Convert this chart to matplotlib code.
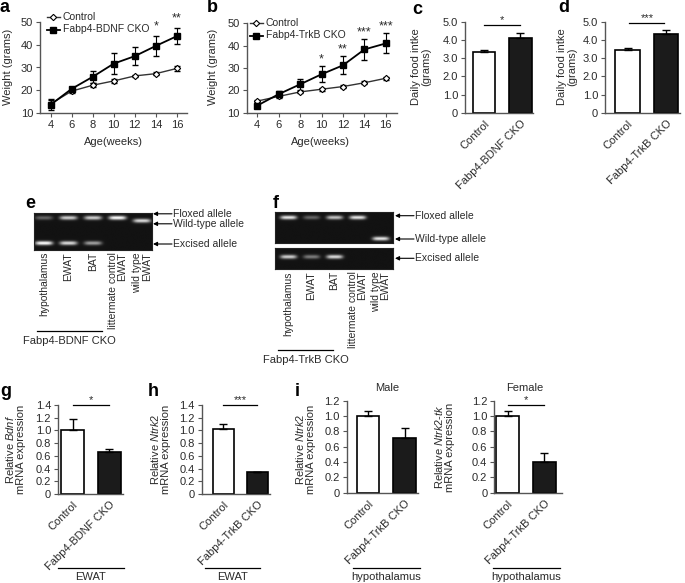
import numpy as np
import matplotlib
matplotlib.use('Agg')
import matplotlib.pyplot as plt

plt.rcParams['font.family'] = ['Liberation Sans', 'DejaVu Sans']
plt.rcParams['font.size'] = 7.5
plt.rcParams['mathtext.fontset'] = 'custom'
plt.rcParams['mathtext.rm'] = 'Liberation Sans'
plt.rcParams['mathtext.it'] = 'Liberation Sans:italic'

W, H = 685, 583
TXT = '#2a2a2a'
SP = '#555555'
FS = 7.5

# ---- data ----
weeks = [4, 6, 8, 10, 12, 14, 16]
# panel a (Fabp4-BDNF)
a_ctrl = [14.0, 19.6, 22.2, 24.1, 26.3, 27.3, 29.6]
a_ctrl_err = [1.5, 0.8, 0.8, 1.0, 0.6, 0.8, 1.2]
a_cko = [13.6, 20.6, 25.9, 31.7, 35.0, 39.5, 43.8]
a_cko_err = [2.5, 1.0, 2.5, 4.5, 4.0, 4.5, 3.5]
a_stars = {14: '*', 16: '**'}
# panel b (Fabp4-TrkB)
b_ctrl = [15.2, 17.3, 19.3, 20.5, 21.7, 23.4, 25.4]
b_ctrl_err = [0.6, 0.6, 0.6, 0.6, 0.6, 0.6, 0.6]
b_cko = [13.2, 18.3, 22.7, 27.2, 31.2, 38.3, 41.0]
b_cko_err = [1.0, 1.3, 2.5, 3.5, 4.0, 4.5, 4.5]
b_stars = {10: '*', 12: '**', 14: '***', 16: '***'}

# food intake
c_vals, c_err = [3.33, 4.10], [0.13, 0.32]
d_vals, d_err = [3.48, 4.32], [0.10, 0.25]
c_labels = ['Control', 'Fabp4-BDNF CKO']
d_labels = ['Control', 'Fabp4-TrkB CKO']

# mRNA expression
g_vals, g_err = [1.00, 0.66], [0.18, 0.05]
h_vals, h_err = [1.02, 0.34], [0.08, 0.01]
im_vals, im_err = [1.00, 0.72], [0.06, 0.12]
if_vals, if_err = [1.00, 0.40], [0.06, 0.12]

# gels: band intensity per lane
e_lanes = ['hypothalamus', 'EWAT', 'BAT', 'littermate control\nEWAT', 'wild type\nEWAT']
e_floxed = [0.35, 0.8, 0.8, 1.0, 0.0]
e_wt = [0.0, 0.0, 0.0, 0.0, 0.85]
e_excised = [1.0, 0.85, 0.6, 0.0, 0.0]
f_floxed = [0.9, 0.35, 0.75, 0.9, 0.0]
f_wt = [0.0, 0.0, 0.0, 0.0, 0.9]
f_excised = [0.8, 0.45, 0.85, 0.0, 0.0]

fig = plt.figure(figsize=(W / 100, H / 100), dpi=100)


def add_ax(l, t, r, b):
    return fig.add_axes([l / W, 1 - b / H, (r - l) / W, (b - t) / H])


def style(ax):
    for s in ['top', 'right']:
        ax.spines[s].set_visible(False)
    for s in ['left', 'bottom']:
        ax.spines[s].set_color(SP)
        ax.spines[s].set_linewidth(1.0)
    ax.tick_params(colors=SP, labelcolor=TXT, length=3, width=0.8, labelsize=FS + 0.5, pad=2)


def growth(ax, ctrl, ctrl_e, cko, cko_e, stars, star_off):
    ax.errorbar(weeks, ctrl, yerr=ctrl_e, fmt='none', ecolor='k', elinewidth=0.8, capsize=2)
    ax.errorbar(weeks, cko, yerr=cko_e, fmt='none', ecolor='k', elinewidth=0.8, capsize=2)
    ax.plot(weeks, ctrl, color='#333333', lw=1.0, marker='D', ms=3.2, mfc='white', mec='k', mew=0.8)
    ax.plot(weeks, cko, color='k', lw=1.3, marker='s', ms=4)
    for wk, s in stars.items():
        i = weeks.index(wk)
        ax.text(wk, cko[i] + cko_e[i] + star_off, s, ha='center', va='bottom', fontsize=9, color=TXT, clip_on=False)
    ax.set_xlim(3, 17)
    ax.set_ylim(10, 50)
    ax.set_xticks(weeks)
    ax.set_yticks([10, 20, 30, 40, 50])
    style(ax)


def bars(ax, vals, errs, ymax, step, xlim, labels=None, sig=None):
    x = np.arange(len(vals))
    ax.bar(x, vals, width=0.62, color=['white', '#1b1b1b'], edgecolor='k', linewidth=1.2, zorder=2)
    ax.errorbar(x, vals, yerr=[[0] * len(vals), errs], fmt='none', ecolor='k',
                elinewidth=1.0, capsize=3, capthick=1.0, zorder=3)
    ax.set_xlim(*xlim)
    ax.set_ylim(0, ymax)
    ticks = np.arange(0, ymax + step / 2, step)
    ax.set_yticks(ticks)
    ax.set_yticklabels(['0'] + ['%.1f' % t for t in ticks[1:]])
    ax.set_xticks(x)
    ax.set_xticklabels(labels, rotation=45, ha='right', rotation_mode='anchor', fontsize=8)
    style(ax)
    ax.tick_params(axis='x', length=0, pad=4)
    if sig is not None:
        x0, x1, y, s = sig
        ax.plot([x0, x1], [y, y], color='k', lw=0.9, clip_on=False)
        ax.text((x0 + x1) / 2, y, s, ha='center', va='bottom', fontsize=8, color=TXT)


def gel(ax, xlim, height, bands):
    xs = np.linspace(xlim[0], xlim[1], 300)
    ys = np.linspace(0, height, 150)
    X, Y = np.meshgrid(xs, ys)
    img = np.zeros_like(X)
    for y, intens in bands:
        for lane, v in enumerate(intens):
            if v > 0:
                img += v * np.exp(-((X - lane) / 0.36) ** 4) * np.exp(-((Y - y) / 2.0) ** 2)
    ax.imshow(np.clip(img, 0, 1), cmap='gray', vmin=-0.08, vmax=1, extent=[xlim[0], xlim[1], height, 0],
              aspect='auto', interpolation='bilinear')
    ax.set_xticks([])
    ax.set_yticks([])
    for s in ax.spines.values():
        s.set_color('#222222')


# ---- a / b ----
ax_a = add_ax(40, 22, 187.5, 113)
growth(ax_a, a_ctrl, a_ctrl_err, a_cko, a_cko_err, a_stars, 1.5)
ax_b = add_ax(246.6, 23.3, 396.5, 112.7)
growth(ax_b, b_ctrl, b_ctrl_err, b_cko, b_cko_err, b_stars, 0.3)

# ---- c / d ----
ax_c = add_ax(465, 22, 533, 112.7)
bars(ax_c, c_vals, c_err, 5.0, 1.0, (-0.53, 1.35), c_labels, (0.0, 1.0, 4.85, '*'))
ax_d = add_ax(605, 22, 680, 112.7)
bars(ax_d, d_vals, d_err, 5.0, 1.0, (-0.58, 1.35), d_labels, (0.05, 0.95, 4.92, '***'))

# ---- g / h / i ----
ax_g = add_ax(58, 405, 123, 494)
bars(ax_g, g_vals, g_err, 1.4, 0.2, (-0.40, 1.37), c_labels, (0.0, 1.0, 1.4, '*'))
ax_h = add_ax(201.7, 405, 270, 494)
bars(ax_h, h_vals, h_err, 1.4, 0.2, (-0.63, 1.37), d_labels, (0.0, 1.0, 1.4, '***'))
ax_im = add_ax(346.7, 400.7, 418, 492.7)
bars(ax_im, im_vals, im_err, 1.2, 0.2, (-0.59, 1.37), d_labels)
ax_if = add_ax(494.3, 400.7, 561.7, 492.7)
bars(ax_if, if_vals, if_err, 1.2, 0.2, (-0.36, 1.47), d_labels, (0.0, 1.0, 1.14, '*'))

# ---- gels ----
ax_e = add_ax(34, 212.7, 152, 250)
gel(ax_e, (-0.4, 4.4), 37.3, [(5.6, e_floxed), (8.5, e_wt), (30.6, e_excised)])
ax_f1 = add_ax(275, 212.3, 393, 243.3)
gel(ax_f1, (-0.58, 4.52), 31.0, [(5.4, f_floxed), (26.7, f_wt)])
ax_f2 = add_ax(275, 247.7, 393, 269.3)
gel(ax_f2, (-0.58, 4.52), 21.6, [(9.6, f_excised)])

# ---- overlay for annotations in pixel coordinates ----
ov = fig.add_axes([0, 0, 1, 1])
ov.set_xlim(0, W)
ov.set_ylim(H, 0)
ov.axis('off')

# legends of a / b
legends = [(47, 16.5, 29.5, 'Fabp4-BDNF CKO'), (250, 23.3, 35.5, 'Fabp4-TrkB CKO')]
for x0, y1, y2, lab in legends:
    ov.plot([x0, x0 + 13], [y1, y1], color='#333333', lw=1.0)
    ov.plot([x0 + 6.5], [y1], marker='D', ms=3.2, mfc='white', mec='k', mew=0.8)
    ov.plot([x0, x0 + 13], [y2, y2], color='k', lw=1.3)
    ov.plot([x0 + 6.5], [y2], marker='s', ms=4, color='k')
    ov.text(x0 + 16, y1, 'Control', ha='left', va='center', fontsize=FS, color=TXT)
    ov.text(x0 + 16, y2, lab, ha='left', va='center', fontsize=FS, color=TXT)

for s, (x, y) in zip('abcdefghi', [(5, 8), (212, 8), (417, 9), (564, 7), (30, 204),
                                   (276, 203), (6, 391), (153, 391), (297, 391)]):
    ov.text(x, y, s, fontsize=13, fontweight='bold', ha='center', va='center', color='k')

ylabels = [(8, 67, 'Weight (grams)'), (213, 67, 'Weight (grams)'),
           (421, 67, 'Daily food intke\n(grams)'), (567, 67, 'Daily food intke\n(grams)'),
           (15, 449, 'Relative $\\it{Bdnf}$\nmRNA expression'),
           (160, 449, 'Relative $\\it{Ntrk2}$\nmRNA expression'),
           (305, 449, 'Relative $\\it{Ntrk2}$\nmRNA expression'),
           (444, 447, 'Relative $\\it{Ntrk2}$-$\\it{tk}$\nmRNA expression')]
for x, y, t in ylabels:
    ov.text(x, y, t, rotation=90, ha='center', va='center', fontsize=FS + 0.5, color=TXT, linespacing=1.05)

ov.text(113, 142, 'Age(weeks)', ha='center', va='center', fontsize=FS + 0.5, color=TXT)
ov.text(320, 142, 'Age(weeks)', ha='center', va='center', fontsize=FS + 0.5, color=TXT)
ov.text(387, 388, 'Male', ha='center', va='center', fontsize=FS + 0.5, color=TXT)
ov.text(525, 388, 'Female', ha='center', va='center', fontsize=FS + 0.5, color=TXT)

# gel lane labels
for xc, lab in zip([43.8, 68.4, 93, 117.6, 142.2], e_lanes):
    ov.text(xc, 252, lab, rotation=90, ha='center', va='top', multialignment='right',
            fontsize=FS, color=TXT, linespacing=0.95)
for xc, lab in zip([288.3, 311.4, 334.5, 357.6, 380.7], e_lanes):
    ov.text(xc, 271, lab, rotation=90, ha='center', va='top', multialignment='right',
            fontsize=FS, color=TXT, linespacing=0.95)

arrows = [(153, 213.8, 'Floxed allele'), (153, 223.8, 'Wild-type allele'), (153, 244, 'Excised allele'),
          (395, 215.7, 'Floxed allele'), (395, 239, 'Wild-type allele'), (395, 258.3, 'Excised allele')]
for x, y, t in arrows:
    ov.annotate('', xy=(x, y), xytext=(x + 19, y),
                arrowprops=dict(arrowstyle='-|>', color='k', lw=0.8, mutation_scale=6, shrinkA=0, shrinkB=0))
    ov.text(x + 20, y, t, ha='left', va='center', fontsize=FS, color=TXT)

groups = [(37, 102, 331, 341, 'Fabp4-BDNF CKO'), (278, 333, 350, 360, 'Fabp4-TrkB CKO'),
          (58, 124, 568, 577, 'EWAT'), (205, 260, 568, 577, 'EWAT'),
          (353, 420, 568, 577, 'hypothalamus'), (493, 560, 568, 577, 'hypothalamus')]
for x0, x1, yl, yt, t in groups:
    ov.plot([x0, x1], [yl, yl], color='k', lw=0.9)
    ov.text((x0 + x1) / 2, yt, t, ha='center', va='center', fontsize=FS + 0.5, color=TXT)

fig.savefig('out.png', dpi=100)
